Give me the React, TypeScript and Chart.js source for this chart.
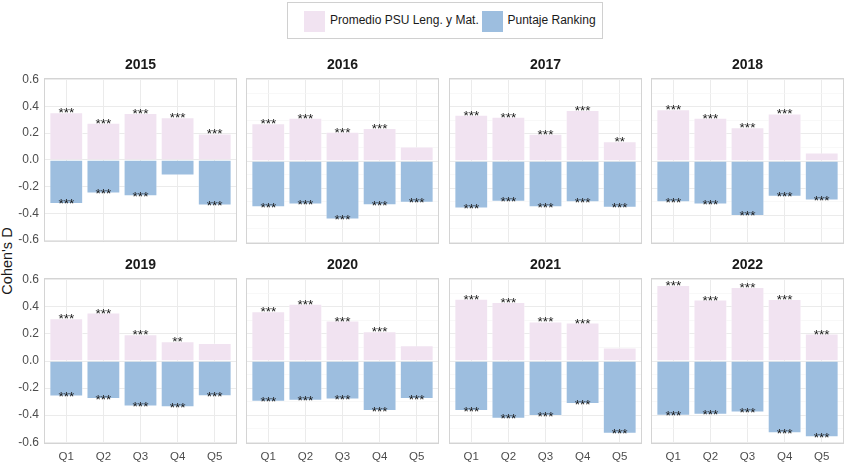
import React, { useEffect, useRef } from "react";
import { Chart, registerables } from "chart.js";

Chart.register(...registerables);

// ---------- data ----------
const categories = ["Q1", "Q2", "Q3", "Q4", "Q5"];
const years = ["2015", "2016", "2017", "2018", "2019", "2020", "2021", "2022"];
const yTicks = [-0.6, -0.5, -0.4, -0.3, -0.2, -0.1, 0, 0.1, 0.2, 0.3, 0.4, 0.5, 0.6];
const seriesNames = ["Promedio PSU Leng. y Mat.", "Puntaje Ranking"];

const psu2015 = [0.355, 0.277, 0.35, 0.318, 0.196];
const psu2016 = [0.277, 0.318, 0.215, 0.243, 0.105];
const psu2017 = [0.34, 0.326, 0.2, 0.375, 0.145];
const psu2018 = [0.38, 0.318, 0.247, 0.35, 0.061];
const psu2019 = [0.314, 0.356, 0.196, 0.145, 0.132];
const psu2020 = [0.366, 0.422, 0.297, 0.218, 0.115];
const psu2021 = [0.459, 0.434, 0.29, 0.282, 0.098];
const psu2022 = [0.56, 0.452, 0.545, 0.456, 0.201];

const rank2015 = [-0.328, -0.25, -0.27, -0.115, -0.34];
const rank2016 = [-0.34, -0.32, -0.43, -0.326, -0.306];
const rank2017 = [-0.35, -0.3, -0.34, -0.304, -0.343];
const rank2018 = [-0.304, -0.32, -0.404, -0.262, -0.29];
const rank2019 = [-0.26, -0.28, -0.334, -0.341, -0.258];
const rank2020 = [-0.3, -0.292, -0.282, -0.368, -0.28];
const rank2021 = [-0.368, -0.425, -0.405, -0.317, -0.535];
const rank2022 = [-0.402, -0.395, -0.378, -0.533, -0.562];

const psuStars2015 = ["***", "***", "***", "***", "***"];
const psuStars2016 = ["***", "***", "***", "***", ""];
const psuStars2017 = ["***", "***", "***", "***", "**"];
const psuStars2018 = ["***", "***", "***", "***", ""];
const psuStars2019 = ["***", "***", "***", "**", ""];
const psuStars2020 = ["***", "***", "***", "***", ""];
const psuStars2021 = ["***", "***", "***", "***", ""];
const psuStars2022 = ["***", "***", "***", "***", "***"];

const rankStars2015 = ["***", "***", "***", "", "***"];
const rankStars2016 = ["***", "***", "***", "***", "***"];
const rankStars2017 = ["***", "***", "***", "***", "***"];
const rankStars2018 = ["***", "***", "***", "***", "***"];
const rankStars2019 = ["***", "***", "***", "***", "***"];
const rankStars2020 = ["***", "***", "***", "***", "***"];
const rankStars2021 = ["***", "***", "***", "***", "***"];
const rankStars2022 = ["***", "***", "***", "***", "***"];

const psuByYear = [psu2015, psu2016, psu2017, psu2018, psu2019, psu2020, psu2021, psu2022];
const rankByYear = [rank2015, rank2016, rank2017, rank2018, rank2019, rank2020, rank2021, rank2022];
const psuStarsByYear = [psuStars2015, psuStars2016, psuStars2017, psuStars2018, psuStars2019, psuStars2020, psuStars2021, psuStars2022];
const rankStarsByYear = [rankStars2015, rankStars2016, rankStars2017, rankStars2018, rankStars2019, rankStars2020, rankStars2021, rankStars2022];

// ---------- style / layout ----------
const FONT = "'Liberation Sans', Arial, sans-serif";
const PINK = "#F1E3F1";
const BLUE = "#9DBEDF";
const PLOT_LEFTS = [44, 246, 449, 651];
const PLOT_TOPS = [78, 278];
const PLOT_W = 193;
const PLOT_H = 166;
const Y_AXIS_W = 44;
const TITLE_H = 21;
const X_AXIS_H = [10, 22];

const isMajor = (v: number) => Math.abs(Math.round(v * 10)) % 2 === 0;

function Panel({ idx }: { idx: number }) {
  const ref = useRef<HTMLCanvasElement | null>(null);
  const row = Math.floor(idx / 4);
  const col = idx % 4;
  const left = PLOT_LEFTS[col] - (col === 0 ? Y_AXIS_W : 0);
  const width = PLOT_W + (col === 0 ? Y_AXIS_W : 0);
  const top = PLOT_TOPS[row] - TITLE_H;
  const height = TITLE_H + PLOT_H + X_AXIS_H[row];

  useEffect(() => {
    if (!ref.current) return;
    const psu = psuByYear[idx];
    const rank = rankByYear[idx];
    const psuStars = psuStarsByYear[idx];
    const rankStars = rankStarsByYear[idx];
    const starSets = [psuStars, rankStars];

    const chart = new Chart(ref.current, {
      type: "bar",
      data: {
        datasets: [
          {
            label: seriesNames[0],
            data: psu.map((v, i) => ({ x: i + 1, y: v })),
            backgroundColor: PINK,
            borderColor: "rgba(255,255,255,0.5)",
            borderWidth: 0.8,
            grouped: false,
            barPercentage: 0.9,
            categoryPercentage: 1,
          } as any,
          {
            label: seriesNames[1],
            data: rank.map((v, i) => ({ x: i + 1, y: v })),
            backgroundColor: BLUE,
            borderColor: "rgba(255,255,255,0.45)",
            borderWidth: 0.8,
            grouped: false,
            barPercentage: 0.9,
            categoryPercentage: 1,
          } as any,
        ],
      },
      options: {
        animation: false,
        responsive: true,
        maintainAspectRatio: false,
        layout: { padding: 0 },
        plugins: {
          legend: { display: false },
          tooltip: { enabled: false },
          title: {
            display: true,
            text: years[idx],
            fullSize: false,
            color: "#1A1A1A",
            font: { family: FONT, size: 14, weight: "bold", lineHeight: 1.2 },
            padding: { top: 0, bottom: 4.2 },
          },
        },
        scales: {
          x: {
            type: "linear",
            min: 0.4,
            max: 5.6,
            offset: false,
            afterBuildTicks: (s: any) => {
              s.ticks = categories.map((_, i) => ({ value: i + 1 }));
            },
            afterFit: (s: any) => {
              s.height = X_AXIS_H[row];
            },
            grid: { offset: false, color: "#EBEBEB", lineWidth: 1, drawTicks: false },
            border: { display: false },
            ticks: {
              display: row === 1,
              autoSkip: false,
              maxRotation: 0,
              padding: 5.5,
              color: "#4D4D4D",
              font: { family: FONT, size: 11.5 },
              callback: (v: any) => categories[Math.round(Number(v)) - 1] ?? "",
            },
          },
          y: {
            type: "linear",
            min: -0.613,
            max: 0.613,
            afterBuildTicks: (s: any) => {
              s.ticks = yTicks.map((v) => ({ value: v }));
            },
            afterFit: (s: any) => {
              s.width = col === 0 ? Y_AXIS_W : 0;
            },
            grid: {
              color: (c: any) => (c.tick && isMajor(c.tick.value) ? "#EBEBEB" : "#F5F5F5"),
              lineWidth: (c: any) => (c.tick && isMajor(c.tick.value) ? 1 : 0.7),
              drawTicks: false,
            },
            border: { display: false },
            ticks: {
              display: col === 0,
              padding: 5,
              color: "#4D4D4D",
              font: { family: FONT, size: 12 },
              callback: (v: any) => (isMajor(Number(v)) ? Number(v).toFixed(1) : ""),
            },
          },
        },
      } as any,
      plugins: [
        {
          id: "panelBorder",
          afterDraw(c: any) {
            const { left: l, top: t, width: w, height: h } = c.chartArea;
            const ctx = c.ctx;
            ctx.save();
            ctx.strokeStyle = "#D4D4D4";
            ctx.lineWidth = 1;
            ctx.strokeRect(l + 0.5, t + 0.5, w - 1, h - 1);
            ctx.restore();
          },
        },
        {
          id: "stars",
          afterDatasetsDraw(c: any) {
            const ctx = c.ctx;
            ctx.save();
            ctx.fillStyle = "#1A1A1A";
            ctx.font = `13.5px ${FONT}`;
            ctx.textAlign = "center";
            ctx.textBaseline = "middle";
            starSets.forEach((stars, di) => {
              const meta = c.getDatasetMeta(di);
              meta.data.forEach((el: any, i: number) => {
                if (stars[i]) ctx.fillText(stars[i], el.x, el.y + 1);
              });
            });
            ctx.restore();
          },
        },
      ],
    });
    return () => chart.destroy();
  }, [idx]);

  return (
    <div style={{ position: "absolute", left, top, width, height }}>
      <canvas ref={ref} />
    </div>
  );
}

export default function App() {
  return (
    <div
      style={{
        position: "absolute",
        left: 0,
        top: 0,
        width: 847,
        height: 463,
        background: "#FFFFFF",
        fontFamily: FONT,
        overflow: "hidden",
      }}
    >
      {/* legend */}
      <div
        style={{
          position: "absolute",
          left: 287,
          top: 2,
          width: 316,
          height: 37,
          border: "1px solid #D0D0D0",
          boxSizing: "border-box",
        }}
      >
        <div style={{ position: "absolute", left: 16, top: 7.5, width: 21, height: 21, background: PINK }} />
        <div style={{ position: "absolute", left: 42, top: 0, height: 35, lineHeight: "35px", fontSize: 12, color: "#1A1A1A", whiteSpace: "nowrap" }}>
          {seriesNames[0]}
        </div>
        <div style={{ position: "absolute", left: 194, top: 7.5, width: 21, height: 21, background: BLUE }} />
        <div style={{ position: "absolute", left: 219.5, top: 0, height: 35, lineHeight: "35px", fontSize: 12, color: "#1A1A1A", whiteSpace: "nowrap" }}>
          {seriesNames[1]}
        </div>
      </div>
      {/* y axis title */}
      <div
        style={{
          position: "absolute",
          left: 7,
          top: 261,
          transform: "translate(-50%, -50%) rotate(-90deg)",
          fontSize: 14.5,
          color: "#1A1A1A",
          whiteSpace: "nowrap",
        }}
      >
        Cohen's D
      </div>
      {years.map((_, i) => (
        <Panel key={i} idx={i} />
      ))}
    </div>
  );
}
